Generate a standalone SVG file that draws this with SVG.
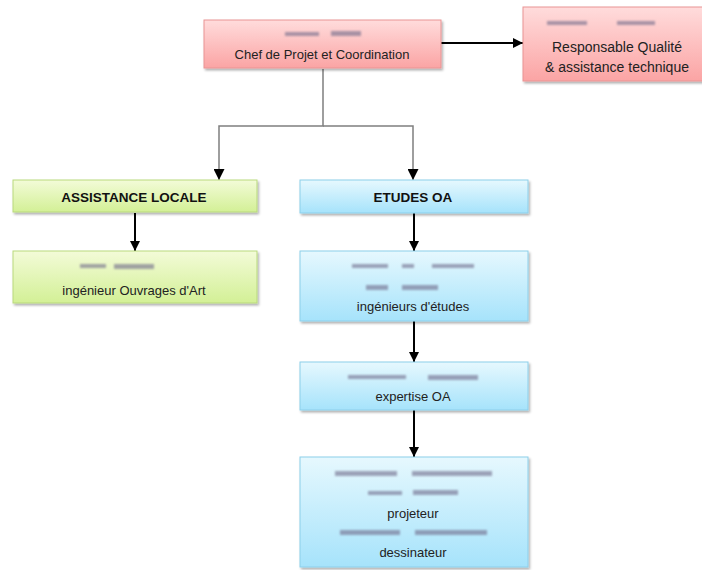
<svg xmlns="http://www.w3.org/2000/svg" width="702" height="570" viewBox="0 0 702 570">
<defs>
<linearGradient id="gPink" x1="0" y1="0" x2="0" y2="1"><stop offset="0" stop-color="#ffdcdc"/><stop offset="1" stop-color="#fba4a4"/></linearGradient>
<linearGradient id="gGreen" x1="0" y1="0" x2="0" y2="1"><stop offset="0" stop-color="#f3fbd8"/><stop offset="1" stop-color="#d3f096"/></linearGradient>
<linearGradient id="gBlue" x1="0" y1="0" x2="0" y2="1"><stop offset="0" stop-color="#e6f8fe"/><stop offset="1" stop-color="#a6e3fb"/></linearGradient>
<filter id="shadow" x="-5%" y="-10%" width="115%" height="130%"><feDropShadow dx="1.5" dy="2" stdDeviation="1.2" flood-color="#000" flood-opacity="0.3"/></filter>
<filter id="blur" x="-20%" y="-100%" width="140%" height="300%"><feGaussianBlur stdDeviation="1.2"/></filter>
<marker id="arr" viewBox="0 0 10 10" refX="10" refY="5" markerWidth="10" markerHeight="10" markerUnits="userSpaceOnUse" orient="auto"><path d="M0,0 L10,5 L0,10 z" fill="#000"/></marker>
<marker id="arrS" viewBox="0 0 10 10" refX="10" refY="5" markerWidth="11" markerHeight="11" markerUnits="userSpaceOnUse" orient="auto"><path d="M0,0 L10,5 L0,10 z" fill="#000"/></marker>
</defs>
<style>
.pink{fill:url(#gPink);stroke:#e99494;stroke-width:1;filter:url(#shadow)}
.green{fill:url(#gGreen);stroke:#b9d97c;stroke-width:1;filter:url(#shadow)}
.blue{fill:url(#gBlue);stroke:#8ccfea;stroke-width:1;filter:url(#shadow)}
text{font-family:"Liberation Sans",Arial,sans-serif;font-size:13px;fill:#222;text-anchor:middle}
.b{font-weight:bold;font-size:13.5px;fill:#111}
.l{font-size:14px}
.smudge{fill:#6f6a8a;opacity:0.6;filter:url(#blur)}
.main{stroke:#000;stroke-width:2;fill:none}
.elbow{stroke:#7f7f7f;stroke-width:1.5;fill:none}
</style>

<g id="connectors">
<line class="main" x1="441" y1="43" x2="523" y2="43" marker-end="url(#arr)"/>
<polyline class="elbow" points="323,69 323,126 219,126 219,180" marker-end="url(#arrS)"/>
<polyline class="elbow" points="323,126 413,126 413,180" marker-end="url(#arrS)"/>
<line class="main" x1="135" y1="213" x2="135" y2="251" marker-end="url(#arr)"/>
<line class="main" x1="414" y1="213" x2="414" y2="251" marker-end="url(#arr)"/>
<line class="main" x1="414" y1="321" x2="414" y2="362" marker-end="url(#arr)"/>
<line class="main" x1="414" y1="410" x2="414" y2="457" marker-end="url(#arr)"/>
</g>

<g id="chef">
<rect class="pink" x="204" y="20" width="237" height="48"/>
<rect class="smudge" x="285" y="32" width="34" height="4"/><rect class="smudge" x="331" y="31" width="30" height="5"/>
<text x="322" y="59">Chef de Projet et Coordination</text>
</g>

<g id="qualite">
<rect class="pink" x="523" y="7" width="190" height="74"/>
<rect class="smudge" x="547" y="21" width="40" height="4"/><rect class="smudge" x="617" y="21" width="38" height="4"/>
<text class="l" x="617" y="52">Responsable Qualité</text>
<text class="l" x="617" y="72">&amp; assistance technique</text>
</g>

<g id="assistance">
<rect class="green" x="13" y="180" width="244" height="32"/>
<text class="b" x="134" y="202">ASSISTANCE LOCALE</text>
</g>

<g id="ingenieur-oa">
<rect class="green" x="13" y="251" width="244" height="52"/>
<rect class="smudge" x="80" y="264" width="26" height="4"/><rect class="smudge" x="114" y="264" width="40" height="5"/>
<text x="134" y="295">ingénieur Ouvrages d'Art</text>
</g>

<g id="etudes">
<rect class="blue" x="300" y="180" width="228" height="33"/>
<text class="b" x="413" y="202">ETUDES OA</text>
</g>

<g id="ingenieurs-etudes">
<rect class="blue" x="300" y="251" width="228" height="70"/>
<rect class="smudge" x="352" y="264" width="36" height="4"/><rect class="smudge" x="402" y="264" width="12" height="4"/><rect class="smudge" x="432" y="264" width="42" height="4"/>
<rect class="smudge" x="366" y="285" width="22" height="5"/><rect class="smudge" x="402" y="285" width="36" height="5"/>
<text x="413" y="311">ingénieurs d'études</text>
</g>

<g id="expertise">
<rect class="blue" x="300" y="362" width="228" height="48"/>
<rect class="smudge" x="348" y="375" width="58" height="4"/><rect class="smudge" x="428" y="375" width="50" height="5"/>
<text x="413" y="401">expertise OA</text>
</g>

<g id="projeteur">
<rect class="blue" x="300" y="457" width="228" height="110"/>
<rect class="smudge" x="335" y="471" width="62" height="5"/><rect class="smudge" x="412" y="471" width="80" height="5"/>
<rect class="smudge" x="368" y="491" width="34" height="4"/><rect class="smudge" x="413" y="490" width="45" height="5"/>
<rect class="smudge" x="340" y="530" width="60" height="5"/><rect class="smudge" x="415" y="530" width="72" height="5"/>
<text x="413" y="518">projeteur</text>
<text x="413" y="557">dessinateur</text>
</g>
</svg>
